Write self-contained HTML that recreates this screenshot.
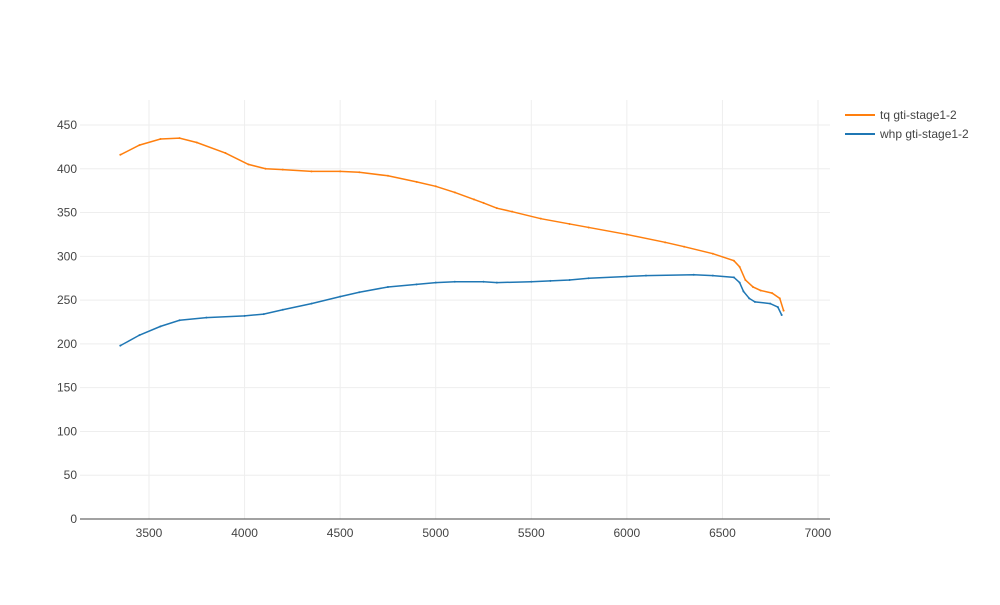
<!DOCTYPE html>
<html><head><meta charset="utf-8"><style>
body{margin:0;background:#fff;font-family:"Liberation Sans",sans-serif;}
svg text{font-family:"Liberation Sans",sans-serif;font-size:12px;fill:#444;}
</style></head><body>
<svg id="chart" width="1000" height="600" xmlns="http://www.w3.org/2000/svg">
<g id="grid"></g>
<g id="axes"></g>
<g id="series"></g>
<g id="legend">
 <line x1="845" y1="115" x2="875" y2="115" stroke="#ff7f0e" stroke-width="2"/>
 <text x="880" y="119">tq gti-stage1-2</text>
 <line x1="845" y1="134" x2="875" y2="134" stroke="#1f77b4" stroke-width="2"/>
 <text x="880" y="138">whp gti-stage1-2</text>
</g>
</svg>
<script>
const xTicks=[3500,4000,4500,5000,5500,6000,6500,7000];
const yTicks=[0,50,100,150,200,250,300,350,400,450];
const tqRpm=[3350,3450,3560,3660,3750,3900,4020,4110,4200,4350,4500,4600,4750,4900,5000,5100,5200,5250,5320,5400,5550,5700,5800,6000,6200,6300,6450,6560,6590,6620,6660,6700,6760,6800,6820];
const tqVal=[416,427,434,435,430,418,405,400,399,397,397,396,392,385,380,373,365,361,355,351,343,337,333,325,316,311,303,295,288,273,265,261,258,252,238];
const whpRpm=[3350,3450,3560,3660,3800,4000,4100,4200,4350,4500,4600,4750,4900,5000,5100,5250,5320,5500,5600,5700,5800,6000,6100,6350,6450,6560,6590,6610,6640,6670,6750,6790,6810];
const whpVal=[198,210,220,227,230,232,234,239,246,254,259,265,268,270,271,271,270,271,272,273,275,277,278,279,278,276,270,260,252,248,246,242,233];
const NS='http://www.w3.org/2000/svg';
const X=v=>149+(v-3500)*(818-149)/3500;
const Y=v=>519-v*(519-125)/450;
const L=80,R=830,T=100,B=519;
function mk(t,a,p){const e=document.createElementNS(NS,t);for(const k in a)e.setAttribute(k,a[k]);p.appendChild(e);return e;}
const grid=document.getElementById('grid'),axes=document.getElementById('axes'),series=document.getElementById('series');
xTicks.forEach(v=>{const g=mk('line',{x1:X(v),x2:X(v),y1:T,y2:B,stroke:'#eee'},grid);

const t=mk('text',{x:X(v),y:B+18,'text-anchor':'middle'},axes);t.textContent=v;
});
yTicks.forEach(v=>{if(v>0){const g=mk('line',{x1:L,x2:R,y1:Y(v),y2:Y(v),stroke:'#eee'},grid);
}
const t=mk('text',{x:L-3,y:Y(v)+4,'text-anchor':'end'},axes);t.textContent=v;
});
const ax=mk('line',{x1:L,x2:R,y1:B,y2:B,stroke:'#444'},axes);

function draw(xs,ys,c,name){const p=mk('polyline',{points:xs.map((x,i)=>X(x)+','+Y(ys[i])).join(' '),fill:'none',stroke:c,'stroke-width':1.5},series);

xs.forEach((x,i)=>{const d=mk('circle',{cx:X(x),cy:Y(ys[i]),r:1,fill:c},series);
});}
draw(tqRpm,tqVal,'#ff7f0e','tq-line');
draw(whpRpm,whpVal,'#1f77b4','whp-line');
</script>
</body></html>
